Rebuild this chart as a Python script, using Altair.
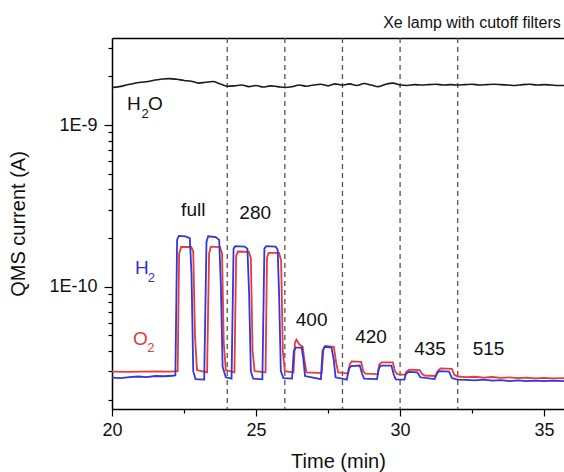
import altair as alt
import pandas as pd

FONT = "Liberation Sans"

# ---------------- data ----------------
# H2O signal (A)
h2o_t = [20.0, 20.25, 20.5, 20.75, 21.0, 21.25, 21.5, 21.75, 22.0, 22.25, 22.5, 22.75,
         23.0, 23.25, 23.5, 23.75, 24.0, 24.25, 24.5, 24.75, 25.0, 25.25, 25.5, 25.75,
         26.0, 26.25, 26.5, 26.75, 27.0, 27.25, 27.5, 27.75, 28.0, 28.25, 28.5, 28.75,
         29.0, 29.25, 29.5, 29.75, 30.0, 30.25, 30.5, 30.75, 31.0, 31.25, 31.5, 31.75,
         32.0, 32.25, 32.5, 32.75, 33.0, 33.25, 33.5, 33.75, 34.0, 34.25, 34.5, 34.75,
         35.0, 35.25, 35.5, 35.75]
h2o_v = [1.71e-9, 1.73e-9, 1.77e-9, 1.81e-9, 1.84e-9, 1.86e-9, 1.90e-9, 1.93e-9, 1.94e-9, 1.92e-9, 1.89e-9, 1.87e-9,
         1.82e-9, 1.84e-9, 1.86e-9, 1.80e-9, 1.74e-9, 1.75e-9, 1.77e-9, 1.73e-9, 1.76e-9, 1.72e-9, 1.75e-9, 1.73e-9,
         1.71e-9, 1.73e-9, 1.77e-9, 1.74e-9, 1.77e-9, 1.79e-9, 1.75e-9, 1.80e-9, 1.77e-9, 1.80e-9, 1.76e-9, 1.81e-9,
         1.77e-9, 1.73e-9, 1.79e-9, 1.82e-9, 1.77e-9, 1.76e-9, 1.78e-9, 1.77e-9, 1.78e-9, 1.79e-9, 1.77e-9, 1.78e-9,
         1.77e-9, 1.78e-9, 1.79e-9, 1.77e-9, 1.78e-9, 1.79e-9, 1.78e-9, 1.77e-9, 1.76e-9, 1.78e-9, 1.79e-9, 1.77e-9,
         1.78e-9, 1.77e-9, 1.76e-9, 1.76e-9]

# H2 signal (A)
h2_t = [20.0, 20.3, 20.6, 20.9, 21.2, 21.5, 21.8, 22.1, 22.2,
        22.26, 22.32, 22.55, 22.7, 22.76, 22.82, 22.9, 23.2,
        23.28, 23.34, 23.6, 23.72, 23.78, 23.84, 23.95, 24.15,
        24.22, 24.28, 24.6, 24.7, 24.76, 24.82, 24.9, 25.22,
        25.29, 25.35, 25.68, 25.75, 25.8, 25.86, 25.95, 26.25,
        26.31, 26.38, 26.58, 26.64, 26.7, 27.25,
        27.31, 27.38, 27.62, 27.7, 27.76, 28.15,
        28.22, 28.3, 28.6, 28.68, 28.75, 29.2,
        29.26, 29.33, 29.7, 29.78, 29.85, 30.15,
        30.2, 30.3, 30.6, 30.7, 31.2,
        31.27, 31.35, 31.7, 31.8, 32.0,
        32.3, 32.6, 32.9, 33.2, 33.5, 33.8, 34.1, 34.4, 34.7, 35.0, 35.3, 35.69]
h2_v = [2.74e-11, 2.72e-11, 2.76e-11, 2.78e-11, 2.76e-11, 2.80e-11, 2.79e-11, 2.81e-11, 2.83e-11,
        1.95e-10, 2.06e-10, 2.05e-10, 2.00e-10, 1.20e-10, 3.0e-11, 2.68e-11, 2.66e-11,
        1.90e-10, 2.05e-10, 2.03e-10, 1.95e-10, 1.00e-10, 3.2e-11, 2.75e-11, 2.70e-11,
        1.72e-10, 1.78e-10, 1.77e-10, 1.72e-10, 9.0e-11, 3.0e-11, 2.70e-11, 2.67e-11,
        1.72e-10, 1.78e-10, 1.77e-10, 1.70e-10, 9.0e-11, 3.0e-11, 2.72e-11, 2.70e-11,
        4.0e-11, 4.2e-11, 4.2e-11, 3.6e-11, 2.8e-11, 2.68e-11,
        4.0e-11, 4.25e-11, 4.2e-11, 3.5e-11, 2.75e-11, 2.66e-11,
        3.1e-11, 3.22e-11, 3.25e-11, 2.9e-11, 2.7e-11, 2.68e-11,
        3.1e-11, 3.25e-11, 3.25e-11, 2.85e-11, 2.67e-11, 2.66e-11,
        2.88e-11, 2.97e-11, 2.95e-11, 2.75e-11, 2.68e-11,
        2.88e-11, 3.0e-11, 2.98e-11, 2.72e-11, 2.66e-11,
        2.65e-11, 2.63e-11, 2.66e-11, 2.62e-11, 2.64e-11, 2.60e-11, 2.63e-11, 2.60e-11, 2.62e-11, 2.60e-11, 2.62e-11, 2.60e-11]

# O2 signal (A)
o2_t = [20.0, 20.5, 21.0, 21.5, 22.0, 22.28,
        22.33, 22.4, 22.75, 22.82, 22.88, 22.95, 23.3,
        23.37, 23.43, 23.75, 23.82, 23.88, 23.95, 24.25,
        24.31, 24.37, 24.75, 24.82, 24.88, 24.95, 25.33,
        25.38, 25.44, 25.8, 25.87, 25.93, 26.0, 26.3,
        26.35, 26.4, 26.5, 26.62, 26.68, 26.75, 27.28,
        27.34, 27.4, 27.7, 27.78, 27.85, 28.2,
        28.25, 28.32, 28.65, 28.72, 28.8, 29.22,
        29.28, 29.36, 29.75, 29.82, 29.9, 30.17,
        30.22, 30.32, 30.68, 30.75, 30.85, 31.23,
        31.3, 31.4, 31.8, 31.88, 32.0,
        32.3, 32.6, 32.9, 33.2, 33.5, 33.8, 34.1, 34.4, 34.7, 35.0, 35.3, 35.69]
o2_v = [2.98e-11, 2.97e-11, 2.98e-11, 2.99e-11, 2.98e-11, 3.0e-11,
        1.60e-10, 1.76e-10, 1.76e-10, 1.65e-10, 5.0e-11, 3.05e-11, 2.95e-11,
        1.60e-10, 1.77e-10, 1.76e-10, 1.60e-10, 4.5e-11, 3.05e-11, 2.95e-11,
        1.55e-10, 1.65e-10, 1.64e-10, 1.50e-10, 4.0e-11, 3.0e-11, 2.95e-11,
        1.52e-10, 1.62e-10, 1.62e-10, 1.45e-10, 4.0e-11, 3.0e-11, 2.95e-11,
        4.5e-11, 4.7e-11, 4.4e-11, 4.25e-11, 3.5e-11, 2.95e-11, 2.92e-11,
        4.1e-11, 4.3e-11, 4.25e-11, 3.4e-11, 2.95e-11, 2.9e-11,
        3.3e-11, 3.45e-11, 3.43e-11, 3.0e-11, 2.9e-11, 2.88e-11,
        3.3e-11, 3.4e-11, 3.4e-11, 3.0e-11, 2.88e-11, 2.85e-11,
        2.98e-11, 3.07e-11, 3.05e-11, 2.9e-11, 2.82e-11, 2.8e-11,
        3.0e-11, 3.12e-11, 3.1e-11, 2.85e-11, 2.78e-11,
        2.76e-11, 2.77e-11, 2.74e-11, 2.76e-11, 2.73e-11, 2.75e-11, 2.72e-11, 2.74e-11, 2.71e-11, 2.73e-11, 2.71e-11, 2.72e-11]

# filter switching times (dashed lines)
switch_t = [24, 26, 28, 30, 32]

# filter labels
filter_labels = ["full", "280", "400", "420", "435", "515"]
filter_label_t = [22.82, 24.97, 26.93, 28.99, 31.04, 33.07]
filter_label_v = [2.98e-10, 2.85e-10, 6.2e-11, 4.87e-11, 4.1e-11, 4.1e-11]

# series name labels (main glyphs and subscripts)
name_text = ["H", "O", "H", "O"]
name_t = [20.52, 21.25, 20.80, 20.73]
name_v = [1.35e-9, 1.35e-9, 1.30e-10, 4.73e-11]
name_color = ["#111111", "#111111", "#3030d8", "#e03a3a"]
sub_text = ["2", "2", "2"]
sub_t = [21.02, 21.24, 21.22]
sub_v = [1.17e-9, 1.13e-10, 4.16e-11]
sub_color = ["#111111", "#3030d8", "#e03a3a"]

x_ticks = [20, 22.5, 25, 27.5, 30, 32.5, 35]
y_ticks = [2e-11, 3e-11, 4e-11, 5e-11, 6e-11, 7e-11, 8e-11, 9e-11,
           1e-10, 2e-10, 3e-10, 4e-10, 5e-10, 6e-10, 7e-10, 8e-10, 9e-10,
           1e-9, 2e-9, 3e-9]

X_DOMAIN = [20, 35.69]
Y_DOMAIN = [1.75e-11, 3.46e-9]

# ---------------- tables ----------------
h2o_df = pd.DataFrame({"t": h2o_t, "v": h2o_v})
h2_df = pd.DataFrame({"t": h2_t, "v": h2_v})
o2_df = pd.DataFrame({"t": o2_t, "v": o2_v})
sw_df = pd.DataFrame({"t": switch_t})
fl_df = pd.DataFrame({"label": filter_labels, "t": filter_label_t, "v": filter_label_v})
nm_df = pd.DataFrame({"label": name_text, "t": name_t, "v": name_v, "c": name_color})
sb_df = pd.DataFrame({"label": sub_text, "t": sub_t, "v": sub_v, "c": sub_color})

x_scale = alt.Scale(domain=X_DOMAIN, nice=False, zero=False)
y_scale = alt.Scale(type="log", domain=Y_DOMAIN, nice=False)

x_axis = alt.Axis(
    values=x_ticks,
    labelExpr="datum.value % 5 === 0 ? datum.label : ''",
    title="Time (min)", grid=False,
    tickSize={"condition": {"test": "datum.value % 5 === 0", "value": 7}, "value": 4},
    labelPadding=5,
    labelFlush=False, labelOverlap=False,
    domainColor="black", domainWidth=1.5, tickColor="black", tickWidth=1.2,
    labelFontSize=18, labelColor="#111", labelFont=FONT,
    titleFontSize=20, titleFontWeight="normal", titleColor="#111", titleFont=FONT,
    titleY=52, titleBaseline="middle",
)
y_axis = alt.Axis(
    values=y_ticks,
    labelExpr="datum.value === 1e-9 ? '1E-9' : (datum.value === 1e-10 ? '1E-10' : '')",
    title="QMS current (A)", grid=False,
    tickSize={"condition": {"test": "datum.value === 1e-9 || datum.value === 1e-10", "value": 8}, "value": 4},
    labelPadding=7,
    labelOverlap=False, labelFlush=False,
    domainColor="black", domainWidth=1.5, tickColor="black", tickWidth=1.2,
    labelFontSize=18, labelColor="#111", labelFont=FONT,
    titleFontSize=20, titleFontWeight="normal", titleColor="#111", titleFont=FONT,
    titleX=-94, titleY=185.5, titleBaseline="middle", titleAngle=-90,
)

X = alt.X("t:Q", scale=x_scale, axis=x_axis)
Y = alt.Y("v:Q", scale=y_scale, axis=y_axis)

rules = alt.Chart(sw_df).mark_rule(color="#555", strokeDash=[5, 4], strokeWidth=1.3).encode(
    x=alt.X("t:Q", scale=x_scale, axis=x_axis)
)
h2o_line = alt.Chart(h2o_df).mark_line(color="#1a1a1a", strokeWidth=1.6, clip=True, interpolate="monotone").encode(x=X, y=Y)
o2_line = alt.Chart(o2_df).mark_line(color="#e53b3b", strokeWidth=1.8, clip=True).encode(x=X, y=Y)
h2_line = alt.Chart(h2_df).mark_line(color="#3535d8", strokeWidth=1.8, clip=True).encode(x=X, y=Y)

fl_text = alt.Chart(fl_df).mark_text(font=FONT, fontSize=19, color="#111", align="center", baseline="middle").encode(
    x=X, y=Y, text="label:N"
)
nm_text = alt.Chart(nm_df).mark_text(font=FONT, fontSize=19, align="left", baseline="middle").encode(
    x=X, y=Y, text="label:N", color=alt.Color("c:N", scale=None)
)
sb_text = alt.Chart(sb_df).mark_text(font=FONT, fontSize=13, align="left", baseline="middle").encode(
    x=X, y=Y, text="label:N", color=alt.Color("c:N", scale=None)
)

# top frame line via a second (top) x axis
top_frame = alt.Chart(h2o_df).mark_line(opacity=0).encode(
    x=alt.X("t:Q", scale=x_scale, axis=alt.Axis(orient="top", labels=False, ticks=False, title=None,
                                                 grid=False, domainColor="black", domainWidth=1.5)),
    y=Y,
)

main = alt.layer(rules, h2o_line, o2_line, h2_line, fl_text, nm_text, sb_text)

chart = alt.layer(main, top_frame).resolve_axis(x="independent").properties(
    width=452, height=371,
    autosize=alt.AutoSizeParams(type="none"),
    padding={"left": 112, "top": 38, "right": 0, "bottom": 63},
    title=alt.TitleParams("Xe lamp with cutoff filters", anchor="end", fontSize=16, fontWeight="normal",
                          font=FONT, color="#111", offset=6, dx=-5),
).configure_view(stroke=None).configure(font=FONT)

chart.save("out.html", embed_options={"renderer": "svg", "actions": False})
